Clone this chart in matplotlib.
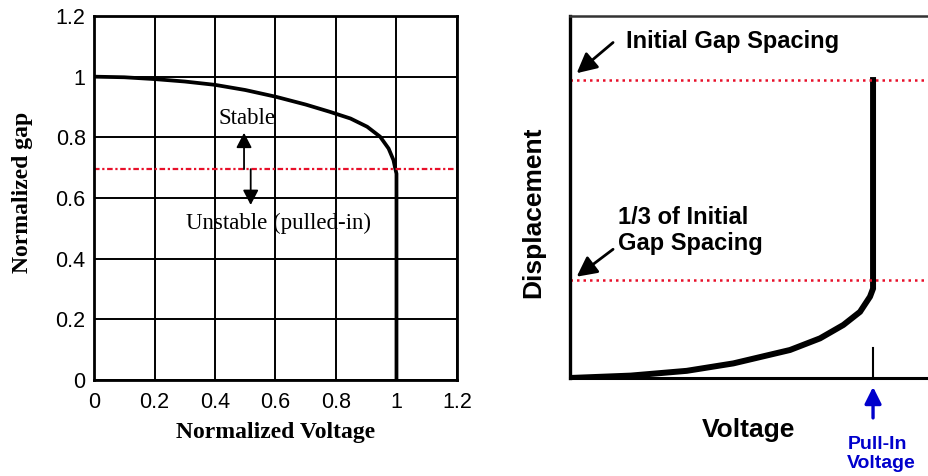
import numpy as np
import matplotlib.pyplot as plt

# left panel: normalized gap vs normalized voltage
norm_voltage = [0.0, 0.1, 0.2, 0.3, 0.4, 0.5, 0.6, 0.7, 0.78, 0.848, 0.903,
                0.946, 0.974, 0.99, 0.996, 1.0, 1.0]
norm_gap = [1.0, 0.998, 0.992, 0.984, 0.973, 0.956, 0.934, 0.908, 0.884, 0.862, 0.835,
            0.802, 0.763, 0.725, 0.697, 0.68, 0.0]
stable_limit = 0.695
tick_vals = [0, 0.2, 0.4, 0.6, 0.8, 1, 1.2]
tick_text = ["0", "0.2", "0.4", "0.6", "0.8", "1", "1.2"]

# right panel: schematic displacement vs voltage
voltage = [0.0, 0.2, 0.385, 0.539, 0.726, 0.825, 0.902, 0.957, 0.99, 1.0, 1.0]
displacement = [0.0, 0.008, 0.024, 0.049, 0.094, 0.133, 0.178, 0.222, 0.273, 0.30, 1.0]
initial_gap = 1.0
third_gap = 0.33
pull_in = 1.0

fig = plt.figure(figsize=(9.29, 4.76), dpi=100)
serif = "Liberation Serif"
sans = "Liberation Sans"

# ---------------- left ----------------
ax1 = fig.add_axes([0.1012, 0.2017, 0.3907, 0.7647])
ax1.plot(norm_voltage, norm_gap, color="black", lw=2.7, solid_joinstyle="round")
ax1.axhline(stable_limit, color="#e8102a", lw=1.6, ls=(0, (2.5, 1.2, 1, 1.2)))
ax1.set_xlim(0, 1.2)
ax1.set_ylim(0, 1.2)
ax1.set_xticks(tick_vals)
ax1.set_yticks(tick_vals)
ax1.set_xticklabels(tick_text, family=sans, fontsize=15.5)
ax1.set_yticklabels(tick_text, family=sans, fontsize=15.5)
ax1.tick_params(length=0, pad=6)
ax1.tick_params(axis="x", pad=9)
ax1.grid(True, color="black", lw=1.4)
for sp in ax1.spines.values():
    sp.set_linewidth(2)

ax1.set_xlabel("Normalized Voltage", family=serif, fontweight="bold", fontsize=17, va="center")
ax1.xaxis.set_label_coords(0.499, -0.143)
ax1.set_ylabel("Normalized gap", family=serif, fontweight="bold", fontsize=17, va="center")
ax1.yaxis.set_label_coords(-0.198, 0.516)

small_arrow = dict(arrowstyle="-|>,head_length=0.5,head_width=0.26", color="black",
                   lw=1.3, mutation_scale=18, shrinkA=0, shrinkB=0)
ax1.annotate("", xy=(0.496, 0.815), xytext=(0.496, stable_limit), arrowprops=small_arrow)
ax1.annotate("", xy=(0.518, 0.577), xytext=(0.518, stable_limit), arrowprops=small_arrow)
ax1.text(0.505, 0.862, "Stable", family=serif, fontsize=16.5, ha="center", va="center")
ax1.text(0.61, 0.516, "Unstable (pulled-in)", family=serif, fontsize=16.5, ha="center", va="center")

# ---------------- right ----------------
ax2 = fig.add_axes([0.6136, 0.2059, 0.3914, 0.7605])
ax2.plot(voltage, displacement, color="black", lw=4.3, solid_joinstyle="miter")
ax2.axhline(initial_gap, color="#e8102a", lw=1.8, ls=(0, (1, 1.6)))
ax2.axhline(third_gap, color="#e8102a", lw=1.8, ls=(0, (1, 1.6)))
ax2.plot([pull_in, pull_in], [0, 0.1], color="black", lw=1.5)
ax2.set_xlim(0, 1.2)
ax2.set_ylim(0, 1.215)
ax2.set_xticks([])
ax2.set_yticks([])
ax2.spines["right"].set_visible(False)
ax2.spines["left"].set_linewidth(2.4)
ax2.spines["bottom"].set_linewidth(2.2)
ax2.spines["top"].set_linewidth(1.8)
ax2.spines["top"].set_color("#333333")

ax2.set_xlabel("Voltage", family=sans, fontweight="bold", fontsize=19, va="center")
ax2.xaxis.set_label_coords(0.49, -0.144)
ax2.set_ylabel("Displacement", family=sans, fontweight="bold", fontsize=19, va="center")
ax2.yaxis.set_label_coords(-0.102, 0.459)

ax2.text(0.185, 1.128, "Initial Gap Spacing", family=sans, fontweight="bold", fontsize=17,
         ha="left", va="center")
ax2.text(0.158, 0.495, "1/3 of Initial\nGap Spacing", family=sans, fontweight="bold", fontsize=17,
         ha="left", va="center", linespacing=1.2)
big_arrow = dict(arrowstyle="-|>,head_length=0.55,head_width=0.28", color="black",
                 lw=2.0, mutation_scale=22, shrinkA=0, shrinkB=0)
ax2.annotate("", xy=(0.022, 1.023), xytext=(0.142, 1.126), arrowprops=big_arrow)
ax2.annotate("", xy=(0.022, 0.34), xytext=(0.142, 0.432), arrowprops=big_arrow)

ax2.annotate("", xy=(pull_in, -0.03), xytext=(pull_in, -0.134), annotation_clip=False,
             arrowprops=dict(arrowstyle="-|>,head_length=0.5,head_width=0.25", color="#0000cc",
                             lw=2.4, mutation_scale=20, shrinkA=0, shrinkB=0))
ax2.text(0.915, -0.255, "Pull-In\nVoltage", family=sans, fontweight="bold", fontsize=14,
         color="#0000cc", ha="left", va="center", linespacing=1.2, clip_on=False)

fig.savefig("out.png", dpi=100)
